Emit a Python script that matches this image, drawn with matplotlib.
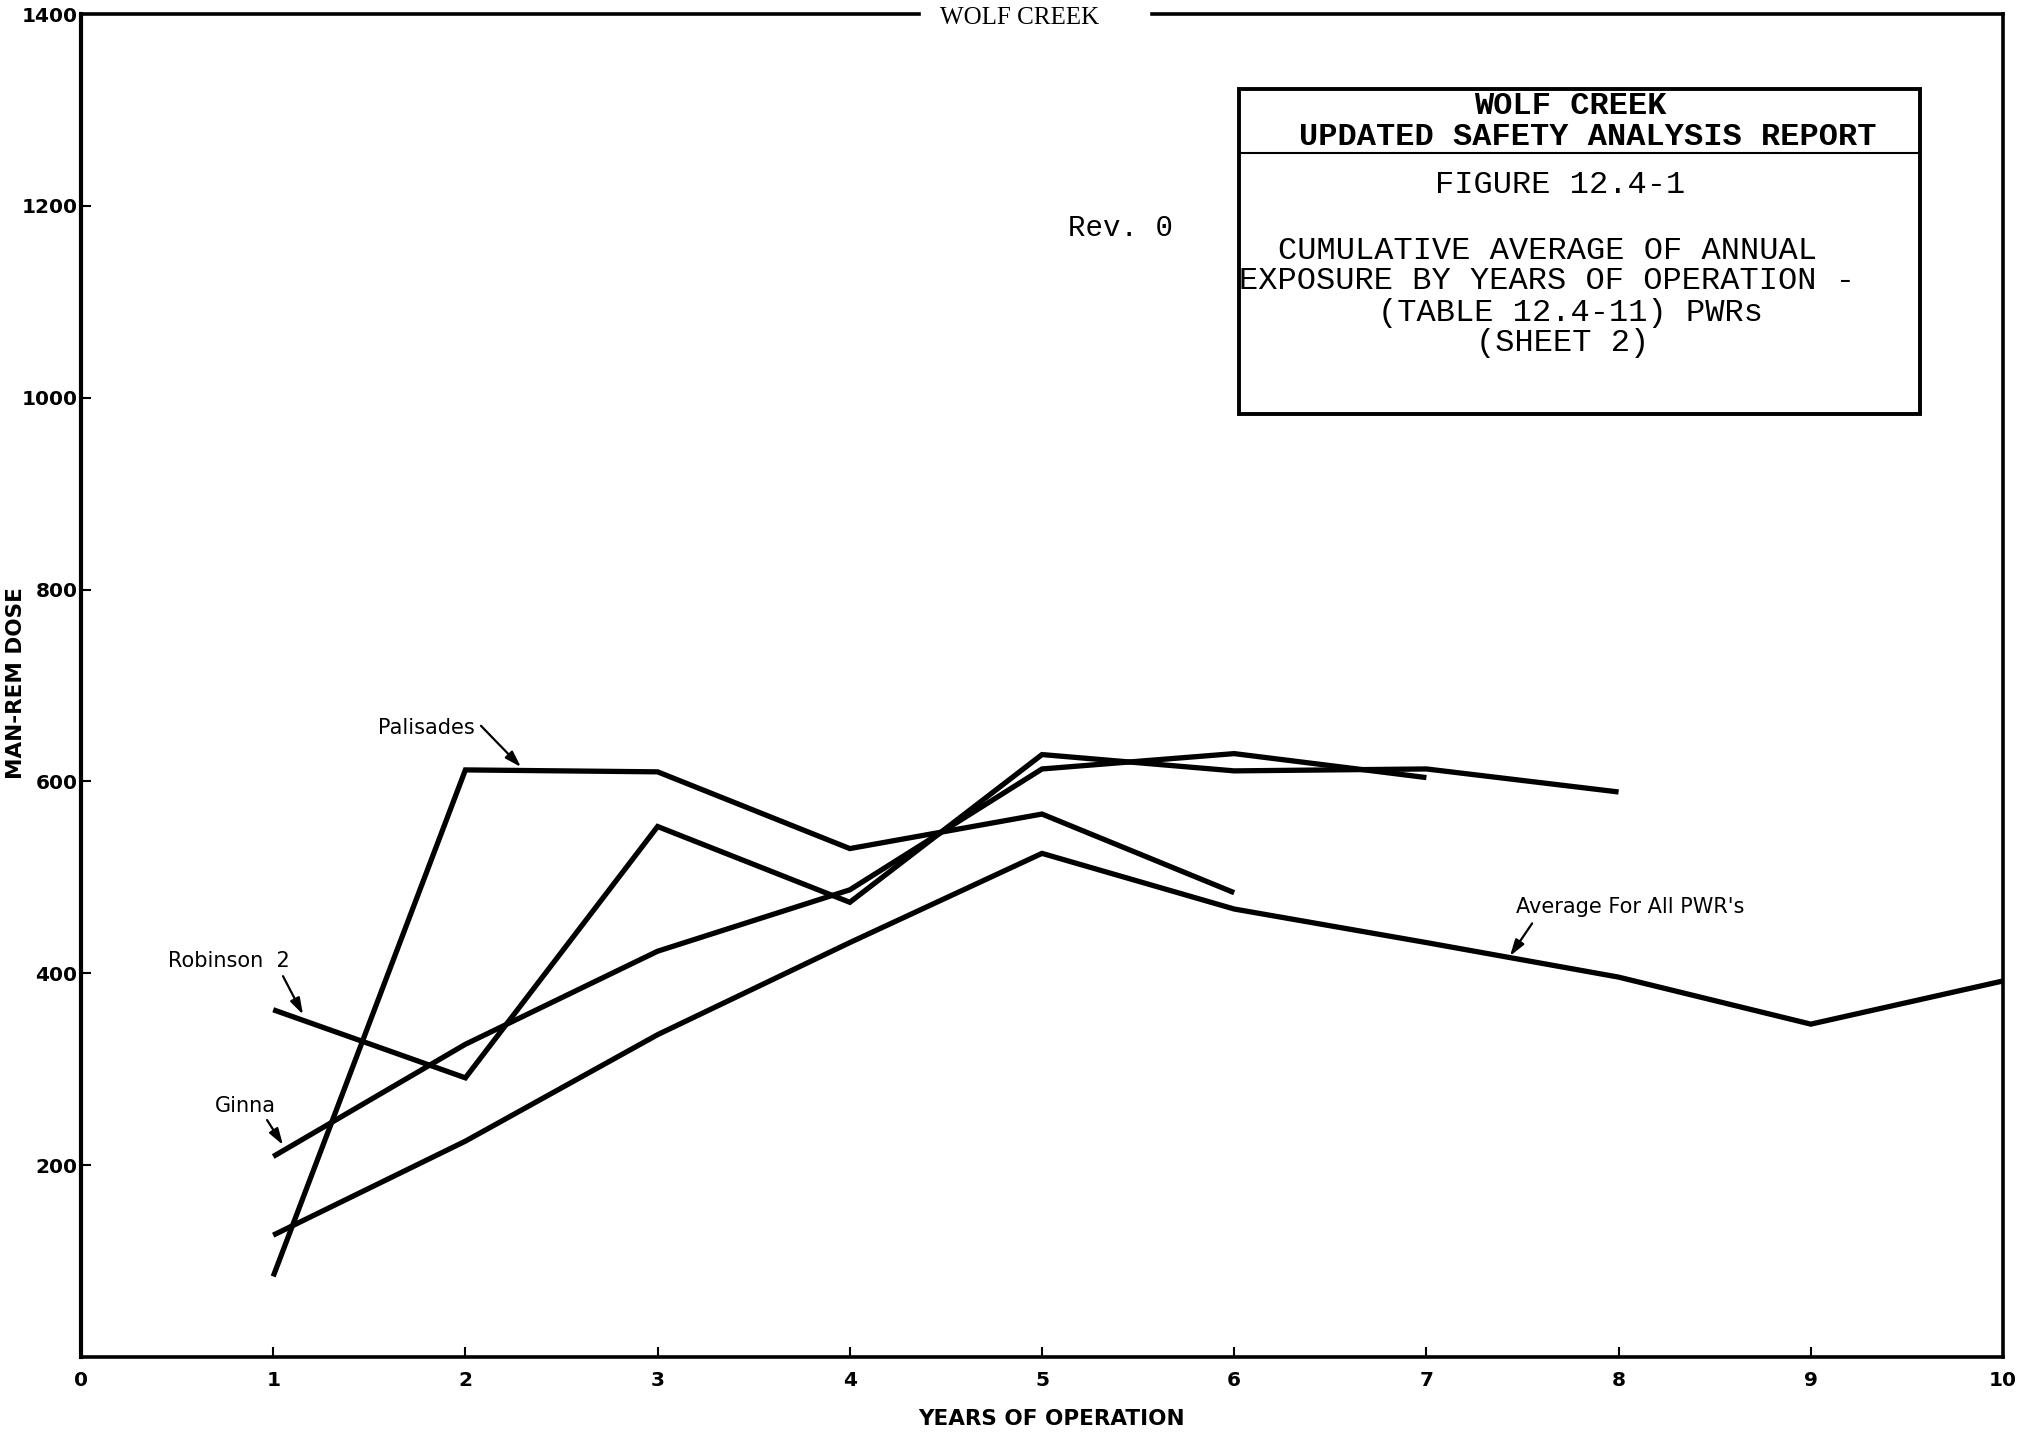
import matplotlib
matplotlib.use("Agg")
import matplotlib.pyplot as plt
from matplotlib.patches import Rectangle
from matplotlib.lines import Line2D

# ---------------- data ----------------
avg_years = [1, 2, 3, 4, 5, 6, 7, 8, 9, 10]
avg_dose = [127, 225, 336, 432, 525, 467, 432, 396, 347, 392]

palisades_years = [1, 2, 3, 4, 5, 6]
palisades_dose = [84, 612, 610, 530, 566, 484]

robinson_years = [1, 2, 3, 4, 5, 6, 7, 8]
robinson_dose = [362, 291, 553, 474, 628, 611, 613, 589]

ginna_years = [1, 2, 3, 4, 5, 6, 7]
ginna_dose = [209, 326, 423, 487, 613, 629, 604]

x_ticks = [0, 1, 2, 3, 4, 5, 6, 7, 8, 9, 10]
y_ticks = [200, 400, 600, 800, 1000, 1200, 1400]

# ---------------- figure ----------------
W, H = 2034, 1438
fig = plt.figure(figsize=(W / 100, H / 100), dpi=100)
fig.patch.set_facecolor("white")

L, R, T, B = 81, 2003, 14, 1357
ax = fig.add_axes([L / W, 1 - B / H, (R - L) / W, (B - T) / H])
ax.set_xlim(0, 10)
ax.set_ylim(0, 1400)

line_kw = dict(color="black", lw=3.8, solid_joinstyle="miter", solid_capstyle="butt")
ax.plot(palisades_years, palisades_dose, **line_kw)
ax.plot(robinson_years, robinson_dose, **line_kw)
ax.plot(ginna_years, ginna_dose, **line_kw)
ax.plot(avg_years, avg_dose, **line_kw)

# spines
for s in ["left", "bottom", "right"]:
    ax.spines[s].set_linewidth(2.6)
    ax.spines[s].set_color("black")
ax.spines["left"].set_linewidth(3.0)
ax.spines["top"].set_visible(False)
# top border with a gap for the header text
for x0, x1 in [(0.0, 0.436), (0.557, 1.0)]:
    ax.add_line(Line2D([x0, x1], [1, 1], transform=ax.transAxes, color="black",
                       lw=2.6, clip_on=False, solid_capstyle="projecting"))

ax.set_xticks(x_ticks)
ax.set_yticks(y_ticks)
ax.set_xticklabels([str(v) for v in x_ticks])
ax.set_yticklabels([str(v) for v in y_ticks])
ax.tick_params(axis="both", direction="in", length=7, width=1.5, colors="black",
               labelsize=14.5)
ax.tick_params(axis="x", pad=10)
ax.tick_params(axis="y", pad=2.5)
for lab in ax.get_xticklabels() + ax.get_yticklabels():
    lab.set_fontweight("bold")
    lab.set_family("DejaVu Sans")

ax.set_xlabel("YEARS OF OPERATION", fontsize=15.5, fontweight="bold", family="DejaVu Sans",
              va="center")
ax.xaxis.set_label_coords((1052 - L) / (R - L), (B - 1419) / (B - T))
ax.set_ylabel("MAN-REM DOSE", fontsize=15.5, fontweight="bold", family="DejaVu Sans",
              va="center")
ax.yaxis.set_label_coords((16 - L) / (R - L), (B - 683) / (B - T))

# ---------------- series labels & arrows ----------------
lab_kw = dict(fontsize=15, family="DejaVu Sans", color="black", ha="center", va="center")
ax.text(1.795, 656, "Palisades", **lab_kw)
ax.text(0.770, 413, "Robinson  2", **lab_kw)
ax.text(0.856, 262, "Ginna", **lab_kw)
ax.text(8.06, 469, "Average For All PWR's", **lab_kw)

arrow_kw = dict(arrowstyle="-|>,head_length=0.7,head_width=0.22", color="black", lw=1.6,
                shrinkA=0, shrinkB=0, mutation_scale=14)
ax.annotate("", xy=(2.289, 615), xytext=(2.081, 658), arrowprops=arrow_kw)
ax.annotate("", xy=(1.155, 357), xytext=(1.051, 397), arrowprops=arrow_kw)
ax.annotate("", xy=(1.051, 221), xytext=(0.968, 247), arrowprops=arrow_kw)
ax.annotate("", xy=(7.435, 418), xytext=(7.55, 452), arrowprops=arrow_kw)

# ---------------- header / title block ----------------
def fx(px):
    return px / W

def fy(py):
    return 1 - py / H

fig.text(fx(1020), fy(18), "WOLF CREEK", fontsize=18, family="Liberation Serif",
         ha="center", va="center")
fig.text(fx(1121), fy(228), "Rev. 0", fontsize=21, family="Liberation Mono",
         ha="center", va="center")

bx0, bx1, by0, by1 = 1239, 1920, 89, 414
fig.add_artist(Rectangle((fx(bx0), fy(by1)), fx(bx1) - fx(bx0), fy(by0) - fy(by1),
                         transform=fig.transFigure, fill=False, edgecolor="black", lw=2.8))
fig.add_artist(Line2D([fx(bx0), fx(bx1)], [fy(153), fy(153)], transform=fig.transFigure,
                      color="black", lw=1.5))

mono_bold = dict(fontsize=23, family="Liberation Mono", fontweight="bold",
                 ha="center", va="center")
fig.text(fx(1570), fy(106), "WOLF CREEK", **mono_bold)
fig.text(fx(1588), fy(137), "UPDATED SAFETY ANALYSIS REPORT", **mono_bold)

mono = dict(fontsize=23, family="Liberation Mono", ha="center", va="center")
fig.text(fx(1560), fy(185), "FIGURE 12.4-1", **mono)
fig.text(fx(1547), fy(251), "CUMULATIVE AVERAGE OF ANNUAL", **mono)
fig.text(fx(1547), fy(281), "EXPOSURE BY YEARS OF OPERATION -", **mono)
fig.text(fx(1570), fy(313), "(TABLE 12.4-11) PWRs", **mono)
fig.text(fx(1563), fy(343), "(SHEET 2)", **mono)

fig.savefig("out.png", dpi=100, facecolor="white")
